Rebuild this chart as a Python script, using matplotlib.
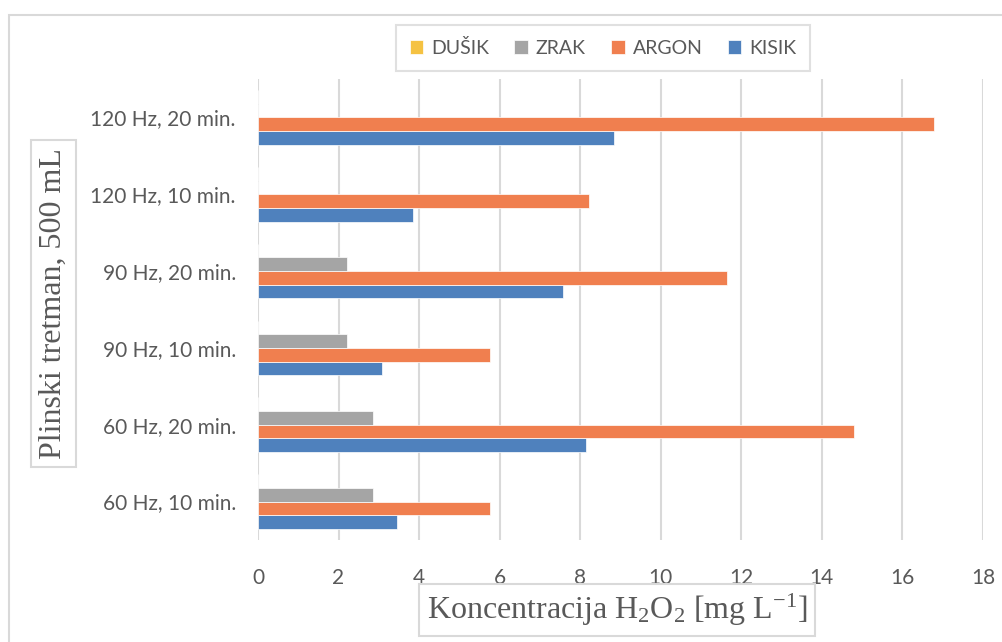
import matplotlib
matplotlib.use('Agg')
import matplotlib.pyplot as plt
from matplotlib.patches import Rectangle
import numpy as np

kategorije = ['60 Hz, 10 min.', '60 Hz, 20 min.', '90 Hz, 10 min.',
              '90 Hz, 20 min.', '120 Hz, 10 min.', '120 Hz, 20 min.']
kisik = [3.45, 8.15, 3.07, 7.57, 3.86, 8.84]
argon = [5.77, 14.79, 5.77, 11.64, 8.21, 16.79]
zrak = [2.85, 2.85, 2.21, 2.21, 0, 0]
dusik = [0, 0, 0, 0, 0, 0]
x_ticks = [0, 2, 4, 6, 8, 10, 12, 14, 16, 18]

plt.rcParams['mathtext.fontset'] = 'custom'
plt.rcParams['mathtext.rm'] = 'Liberation Serif'
plt.rcParams['mathtext.it'] = 'Liberation Serif:italic'

siva_tekst = '#595959'
mreza = '#D9D9D9'

fig = plt.figure(figsize=(10.02, 6.42), dpi=100)
fig.patch.set_facecolor('white')
# okvir grafikona (Excel chart area), odrezan desno i dolje
fig.patches.append(Rectangle((9 / 1002, -0.05), 1.1, 1 - 15 / 642 + 0.05,
                             transform=fig.transFigure, fill=False,
                             edgecolor=mreza, linewidth=1.5, zorder=0))

ax = fig.add_axes([258 / 1002, 102 / 642, 725 / 1002, 461 / 642])

y = np.arange(len(kategorije))
h = 0.178
serije = [('KISIK', kisik, '#4F81BD', -1.5),
          ('ARGON', argon, '#F07F4F', -0.5),
          ('ZRAK', zrak, '#A5A5A5', 0.5),
          ('DUŠIK', dusik, '#F5C242', 1.5)]
for ime, vrijednosti, boja, pomak in serije:
    ax.barh(y + pomak * h, vrijednosti, height=h, color=boja, label=ime,
            edgecolor='white', linewidth=0.5, zorder=3)

ax.set_xlim(0, 18)
ax.set_ylim(-0.5, len(kategorije) - 0.5)
ax.set_xticks(x_ticks)
ax.set_yticks(y)
ax.set_yticklabels(kategorije)
ax.grid(axis='x', color=mreza, linewidth=1.5, zorder=0)
ax.set_axisbelow(True)
for s in ax.spines.values():
    s.set_visible(False)
ax.tick_params(length=0, labelsize=15, labelcolor=siva_tekst)
ax.tick_params(axis='x', pad=20)
ax.tick_params(axis='y', pad=16)
for lbl in ax.get_xticklabels() + ax.get_yticklabels():
    lbl.set_fontfamily('Lato')

fig.text(617 / 1002, 1 - 610 / 642, r'Koncentracija H$_2$O$_2$ [mg L$^{-1}$]',
         family='Liberation Serif', fontsize=23, color=siva_tekst,
         ha='center', va='center',
         bbox=dict(boxstyle='square,pad=0.25', fc='white', ec=mreza, lw=1.5))
fig.text(53.5 / 1002, 1 - 303.5 / 642, 'Plinski tretman, 500 mL',
         family='Liberation Serif', fontsize=23, color=siva_tekst,
         rotation=90, ha='center', va='center',
         bbox=dict(boxstyle='square,pad=0.25', fc='white', ec=mreza, lw=1.5))

handles, labels = ax.get_legend_handles_labels()
leg = fig.legend(handles[::-1], labels[::-1], ncol=4, loc='center',
                 bbox_to_anchor=(603 / 1002, 1 - 48 / 642),
                 prop={'family': 'Lato', 'size': 14}, labelcolor=siva_tekst,
                 frameon=True, fancybox=False, edgecolor=mreza,
                 handlelength=0.7, handleheight=0.7, handletextpad=0.4,
                 columnspacing=1.3, borderpad=0.7)
leg.get_frame().set_linewidth(1.5)

fig.savefig('out.png', dpi=100)
